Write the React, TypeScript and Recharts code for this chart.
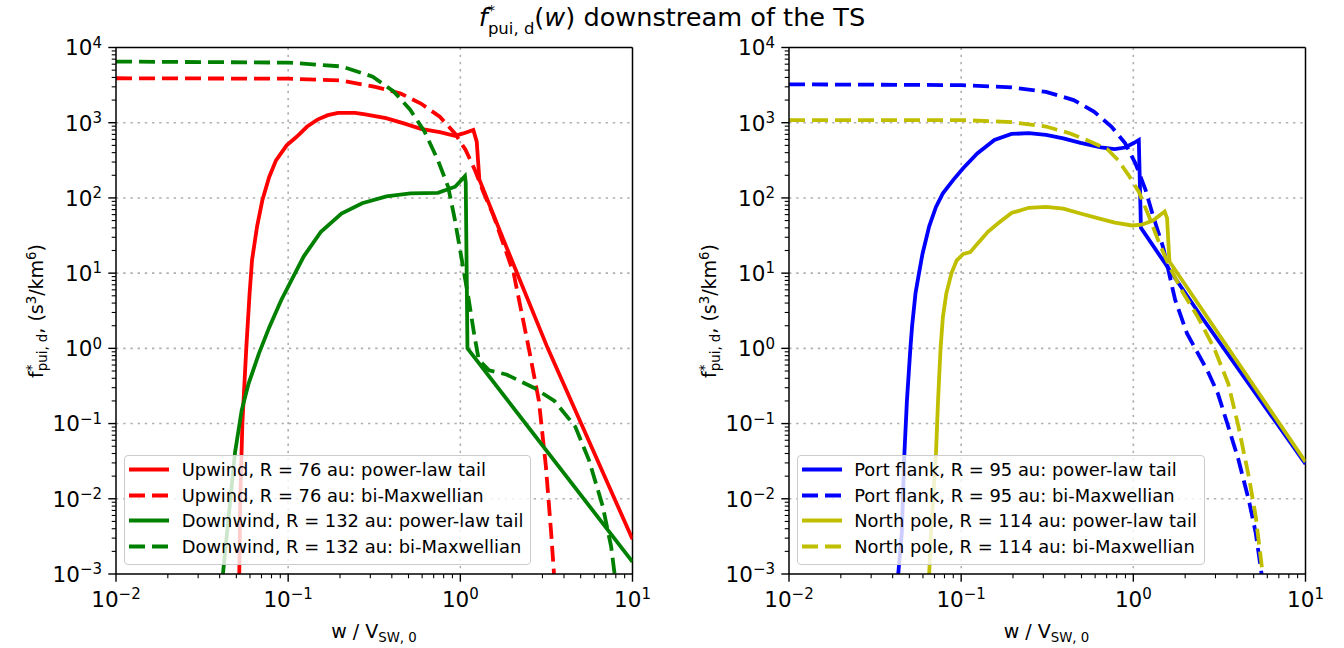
import React from "react";
import { LineChart, Line, XAxis, YAxis, CartesianGrid, ReferenceLine } from "recharts";

// ---- axis ticks ----
const xMajor = [0.01, 0.1, 1, 10];
const yMajor = [1e-3, 1e-2, 1e-1, 1, 10, 100, 1000, 10000];
const minorSteps = [2, 3, 4, 5, 6, 7, 8, 9];

// ---- left panel: upwind / downwind ----
const upwindTailW = [0.052, 0.0527, 0.0542, 0.0571, 0.0597, 0.0617, 0.066, 0.0708, 0.0776, 0.085, 0.098, 0.112, 0.129, 0.148, 0.17, 0.195, 0.245, 0.28, 0.37, 0.47, 0.59, 0.76, 0.93, 1.04, 1.19, 1.245, 1.29, 1.78, 3.22, 10];
const upwindTailF = [0.001, 0.01, 0.1, 1, 5.4, 15, 42, 93, 190, 316, 500, 650, 890, 1100, 1260, 1350, 1350, 1290, 1150, 980, 830, 750, 670, 720, 800, 560, 175, 27.8, 1, 0.0029];
const upwindMaxW = [0.01, 0.1, 0.2, 0.32, 0.45, 0.59, 0.76, 0.93, 1.07, 1.22, 1.36, 1.55, 2.04, 2.51, 2.86, 3.14, 3.37, 3.5];
const upwindMaxF = [3900, 3850, 3650, 3000, 2450, 1800, 1200, 720, 440, 230, 120, 60, 10, 0.95, 0.2, 0.027, 0.0035, 0.001];
const downwindTailW = [0.0418, 0.0491, 0.0537, 0.0589, 0.0676, 0.0776, 0.0912, 0.1, 0.123, 0.155, 0.204, 0.269, 0.372, 0.513, 0.741, 0.933, 1.064, 1.075, 1.1, 10];
const downwindTailF = [0.001, 0.041, 0.15, 0.34, 0.85, 1.9, 4.4, 6.6, 16.6, 35.5, 62, 85, 105, 115, 117, 141, 195, 160, 1.0, 0.00145];
const downwindMaxW = [0.01, 0.1, 0.204, 0.31, 0.41, 0.51, 0.62, 0.74, 0.85, 0.93, 1.02, 1.12, 1.2, 1.28, 1.47, 1.85, 2.67, 3.52, 4.65, 5.58, 6.71, 7.52, 7.87];
const downwindMaxF = [6500, 6300, 5600, 4100, 2600, 1500, 760, 320, 140, 51, 15, 4.4, 1.6, 0.7, 0.51, 0.45, 0.3, 0.2, 0.091, 0.033, 0.008, 0.0023, 0.001];

// ---- right panel: port flank / north pole ----
const portTailW = [0.0431, 0.0452, 0.0468, 0.0484, 0.0507, 0.0519, 0.0543, 0.0569, 0.0596, 0.0652, 0.0714, 0.0783, 0.09, 0.103, 0.124, 0.156, 0.196, 0.247, 0.311, 0.392, 0.493, 0.649, 0.78, 0.895, 1.005, 1.076, 1.107, 2.44, 10];
const portTailF = [0.001, 0.0035, 0.04, 0.2, 1, 2, 5.4, 10, 18, 42, 76, 115, 174, 250, 390, 590, 710, 725, 690, 620, 540, 470, 447, 468, 537, 590, 40, 2.8, 0.029];
const portMaxW = [0.01, 0.1, 0.196, 0.311, 0.45, 0.59, 0.745, 0.895, 1.028, 1.18, 1.29, 1.49, 1.75, 2.05, 2.35, 2.7, 3.1, 3.56, 4.08, 4.69, 5.14, 5.56];
const portMaxF = [3240, 3160, 2950, 2570, 2000, 1410, 890, 537, 288, 126, 62, 22, 4.4, 1.58, 0.89, 0.5, 0.25, 0.091, 0.033, 0.0095, 0.0035, 0.001];
const northTailW = [0.0652, 0.0667, 0.0714, 0.0734, 0.0759, 0.0783, 0.082, 0.0879, 0.0942, 0.103, 0.113, 0.124, 0.143, 0.164, 0.196, 0.247, 0.311, 0.392, 0.493, 0.62, 0.78, 0.982, 1.12, 1.3, 1.52, 1.57, 1.62, 10];
const northTailF = [0.001, 0.0035, 0.04, 0.2, 1, 2.6, 5.4, 10, 14.8, 18, 19, 24.5, 35.5, 46, 63, 74, 76, 72, 62, 54, 47, 43, 44, 50, 66, 54, 14.3, 0.031];
const northMaxW = [0.01, 0.1, 0.196, 0.311, 0.43, 0.565, 0.71, 0.817, 0.94, 1.077, 1.236, 1.42, 1.63, 1.95, 2.35, 2.95, 3.56, 4.08, 4.69, 5.14, 5.64];
const northMaxF = [1085, 1085, 1020, 890, 720, 560, 440, 316, 200, 120, 56, 24.5, 12, 5.4, 2.7, 1.0, 0.34, 0.091, 0.0195, 0.0058, 0.001];

const FONT = "'DejaVu Sans', sans-serif";
const DASH = "16 7";
const LW = 3.8;

type Pt = { w: number; f: number };
const zip = (w: number[], f: number[]): Pt[] => w.map((v, i) => ({ w: v, f: f[i] }));

interface Series {
  name: string;
  data: Pt[];
  color: string;
  dashed: boolean;
}

const leftSeries: Series[] = [
  { name: "Upwind, R = 76 au: power-law tail", data: zip(upwindTailW, upwindTailF), color: "#ff0000", dashed: false },
  { name: "Upwind, R = 76 au: bi-Maxwellian", data: zip(upwindMaxW, upwindMaxF), color: "#ff0000", dashed: true },
  { name: "Downwind, R = 132 au: power-law tail", data: zip(downwindTailW, downwindTailF), color: "#008000", dashed: false },
  { name: "Downwind, R = 132 au: bi-Maxwellian", data: zip(downwindMaxW, downwindMaxF), color: "#008000", dashed: true },
];

const rightSeries: Series[] = [
  { name: "Port flank, R = 95 au: power-law tail", data: zip(portTailW, portTailF), color: "#0000ff", dashed: false },
  { name: "Port flank, R = 95 au: bi-Maxwellian", data: zip(portMaxW, portMaxF), color: "#0000ff", dashed: true },
  { name: "North pole, R = 114 au: power-law tail", data: zip(northTailW, northTailF), color: "#bfbf00", dashed: false },
  { name: "North pole, R = 114 au: bi-Maxwellian", data: zip(northMaxW, northMaxF), color: "#bfbf00", dashed: true },
];

// major + minor tick values for log axes
const withMinor = (major: number[]) => {
  const out: number[] = [];
  major.forEach((m, i) => {
    out.push(m);
    if (i < major.length - 1) minorSteps.forEach((s) => out.push(+(m * s).toPrecision(6)));
  });
  return out;
};
const xTicks = withMinor(xMajor);
const yTicks = withMinor(yMajor);

const isMajor = (v: number) => Math.abs(Math.log10(v) - Math.round(Math.log10(v))) < 1e-6;
const expo = (v: number) => {
  const e = Math.round(Math.log10(v));
  return e < 0 ? `\u2212${-e}` : `${e}`;
};

function XTick({ x, y, payload }: any) {
  const v = payload.value;
  const major = isMajor(v);
  return (
    <g>
      <line x1={x} x2={x} y1={y} y2={y + (major ? 7.7 : 4.3)} stroke="#000" strokeWidth={major ? 1.4 : 1.1} />
      {major && (
        <text x={x} y={y + 33} textAnchor="middle" fontSize={21.5} fontFamily={FONT} fill="#000">
          10
          <tspan fontSize={15} dy={-8}>
            {expo(v)}
          </tspan>
        </text>
      )}
    </g>
  );
}

function YTick({ x, y, payload }: any) {
  const v = payload.value;
  const major = isMajor(v);
  return (
    <g>
      <line x1={x} x2={x - (major ? 7.7 : 4.3)} y1={y} y2={y} stroke="#000" strokeWidth={major ? 1.4 : 1.1} />
      {major && (
        <text x={x - 14} y={y + 7.8} textAnchor="end" fontSize={21.5} fontFamily={FONT} fill="#000">
          10
          <tspan fontSize={15} dy={-7.5}>
            {expo(v)}
          </tspan>
        </text>
      )}
    </g>
  );
}

function LegendBox({ series }: { series: Series[] }) {
  return (
    <div
      style={{
        position: "absolute",
        left: 124,
        top: 455,
        padding: "1px 7px 4px 4px",
        background: "rgba(255,255,255,0.8)",
        border: "1px solid #cccccc",
        borderRadius: 4,
        fontFamily: FONT,
        fontSize: 17.9,
        lineHeight: "25.7px",
        color: "#000",
        whiteSpace: "nowrap",
      }}
    >
      {series.map((s) => (
        <div key={s.name} style={{ display: "flex", alignItems: "flex-start", height: 25.7 }}>
          <svg width={40} height={25.7} style={{ marginRight: 12.7, flex: "none" }}>
            <line x1={0} x2={40} y1={12.5} y2={12.5} stroke={s.color} strokeWidth={LW} strokeDasharray={s.dashed ? DASH : undefined} />
          </svg>
          <span>{s.name}</span>
        </div>
      ))}
    </div>
  );
}

function Panel({ series, left }: { series: Series[]; left: number }) {
  return (
    <div style={{ position: "absolute", left, top: 0, width: 672, height: 648 }}>
      <LineChart width={672} height={648} margin={{ top: 47.5, right: 39.5, bottom: 44, left: 56 }}>
        <CartesianGrid
          horizontalValues={[1e-2, 1e-1, 1, 10, 100, 1000]}
          verticalValues={[0.1, 1]}
          stroke="#b0b0b0"
          strokeWidth={1.6}
          strokeDasharray="2.4 4.8"
        />
        <XAxis
          type="number"
          dataKey="w"
          scale="log"
          domain={[0.01, 10]}
          allowDataOverflow
          ticks={xTicks}
          interval={0}
          tickSize={0}
          tickMargin={0}
          tickLine={false}
          tick={<XTick />}
          height={30}
          axisLine={{ stroke: "#000", strokeWidth: 1.5 }}
        />
        <YAxis
          type="number"
          dataKey="f"
          scale="log"
          domain={[1e-3, 1e4]}
          allowDataOverflow
          ticks={yTicks}
          interval={0}
          tickSize={0}
          tickMargin={0}
          tickLine={false}
          tick={<YTick />}
          width={60}
          axisLine={{ stroke: "#000", strokeWidth: 1.5 }}
        />
        <ReferenceLine x={10} stroke="#000" strokeWidth={1.5} />
        <ReferenceLine y={1e4} stroke="#000" strokeWidth={1.5} />
        {series.map((s) => (
          <Line
            key={s.name}
            data={s.data}
            dataKey="f"
            type="linear"
            stroke={s.color}
            strokeWidth={LW}
            strokeDasharray={s.dashed ? DASH : undefined}
            dot={false}
            activeDot={false}
            isAnimationActive={false}
          />
        ))}
      </LineChart>
      <LegendBox series={series} />
    </div>
  );
}

function AxisLabels({ dx }: { dx: number }) {
  return (
    <g fontFamily={FONT} fill="#000">
      <text x={dx + 374} y={637.5} textAnchor="middle" fontSize={19}>
        w / V
        <tspan fontSize={13.3} dy={4}>
          SW, 0
        </tspan>
      </text>
      <text transform={`translate(${dx + 43.3}, 311) rotate(-90)`} textAnchor="middle" fontSize={19}>
        f
        <tspan fontSize={13.3} dy={-7}>
          *
        </tspan>
        <tspan fontSize={13.3} dx={-6.5} dy={11}>
          pui, d
        </tspan>
        <tspan dy={-4}>, (s</tspan>
        <tspan fontSize={13.3} dy={-7}>
          3
        </tspan>
        <tspan dy={7}>/km</tspan>
        <tspan fontSize={13.3} dy={-7}>
          6
        </tspan>
        <tspan dy={7}>)</tspan>
      </text>
    </g>
  );
}

export default function App() {
  return (
    <div style={{ position: "absolute", left: 0, top: 0, width: 1344, height: 648, background: "#fff", fontFamily: FONT }}>
      <Panel series={leftSeries} left={0} />
      <Panel series={rightSeries} left={672.5} />
      <svg width={1344} height={648} style={{ position: "absolute", left: 0, top: 0, pointerEvents: "none" }}>
        <text x={672} y={26} textAnchor="middle" fontSize={25.6} fontFamily={FONT} fill="#000">
          <tspan fontStyle="italic">f</tspan>
          <tspan fontSize={14} dy={-11}>
            *
          </tspan>
          <tspan fontSize={16.5} dx={-7} dy={19}>
            pui, d
          </tspan>
          <tspan dy={-8}>(</tspan>
          <tspan fontStyle="italic">w</tspan>
          <tspan>) downstream of the TS</tspan>
        </text>
        <AxisLabels dx={0} />
        <AxisLabels dx={672.5} />
      </svg>
    </div>
  );
}
